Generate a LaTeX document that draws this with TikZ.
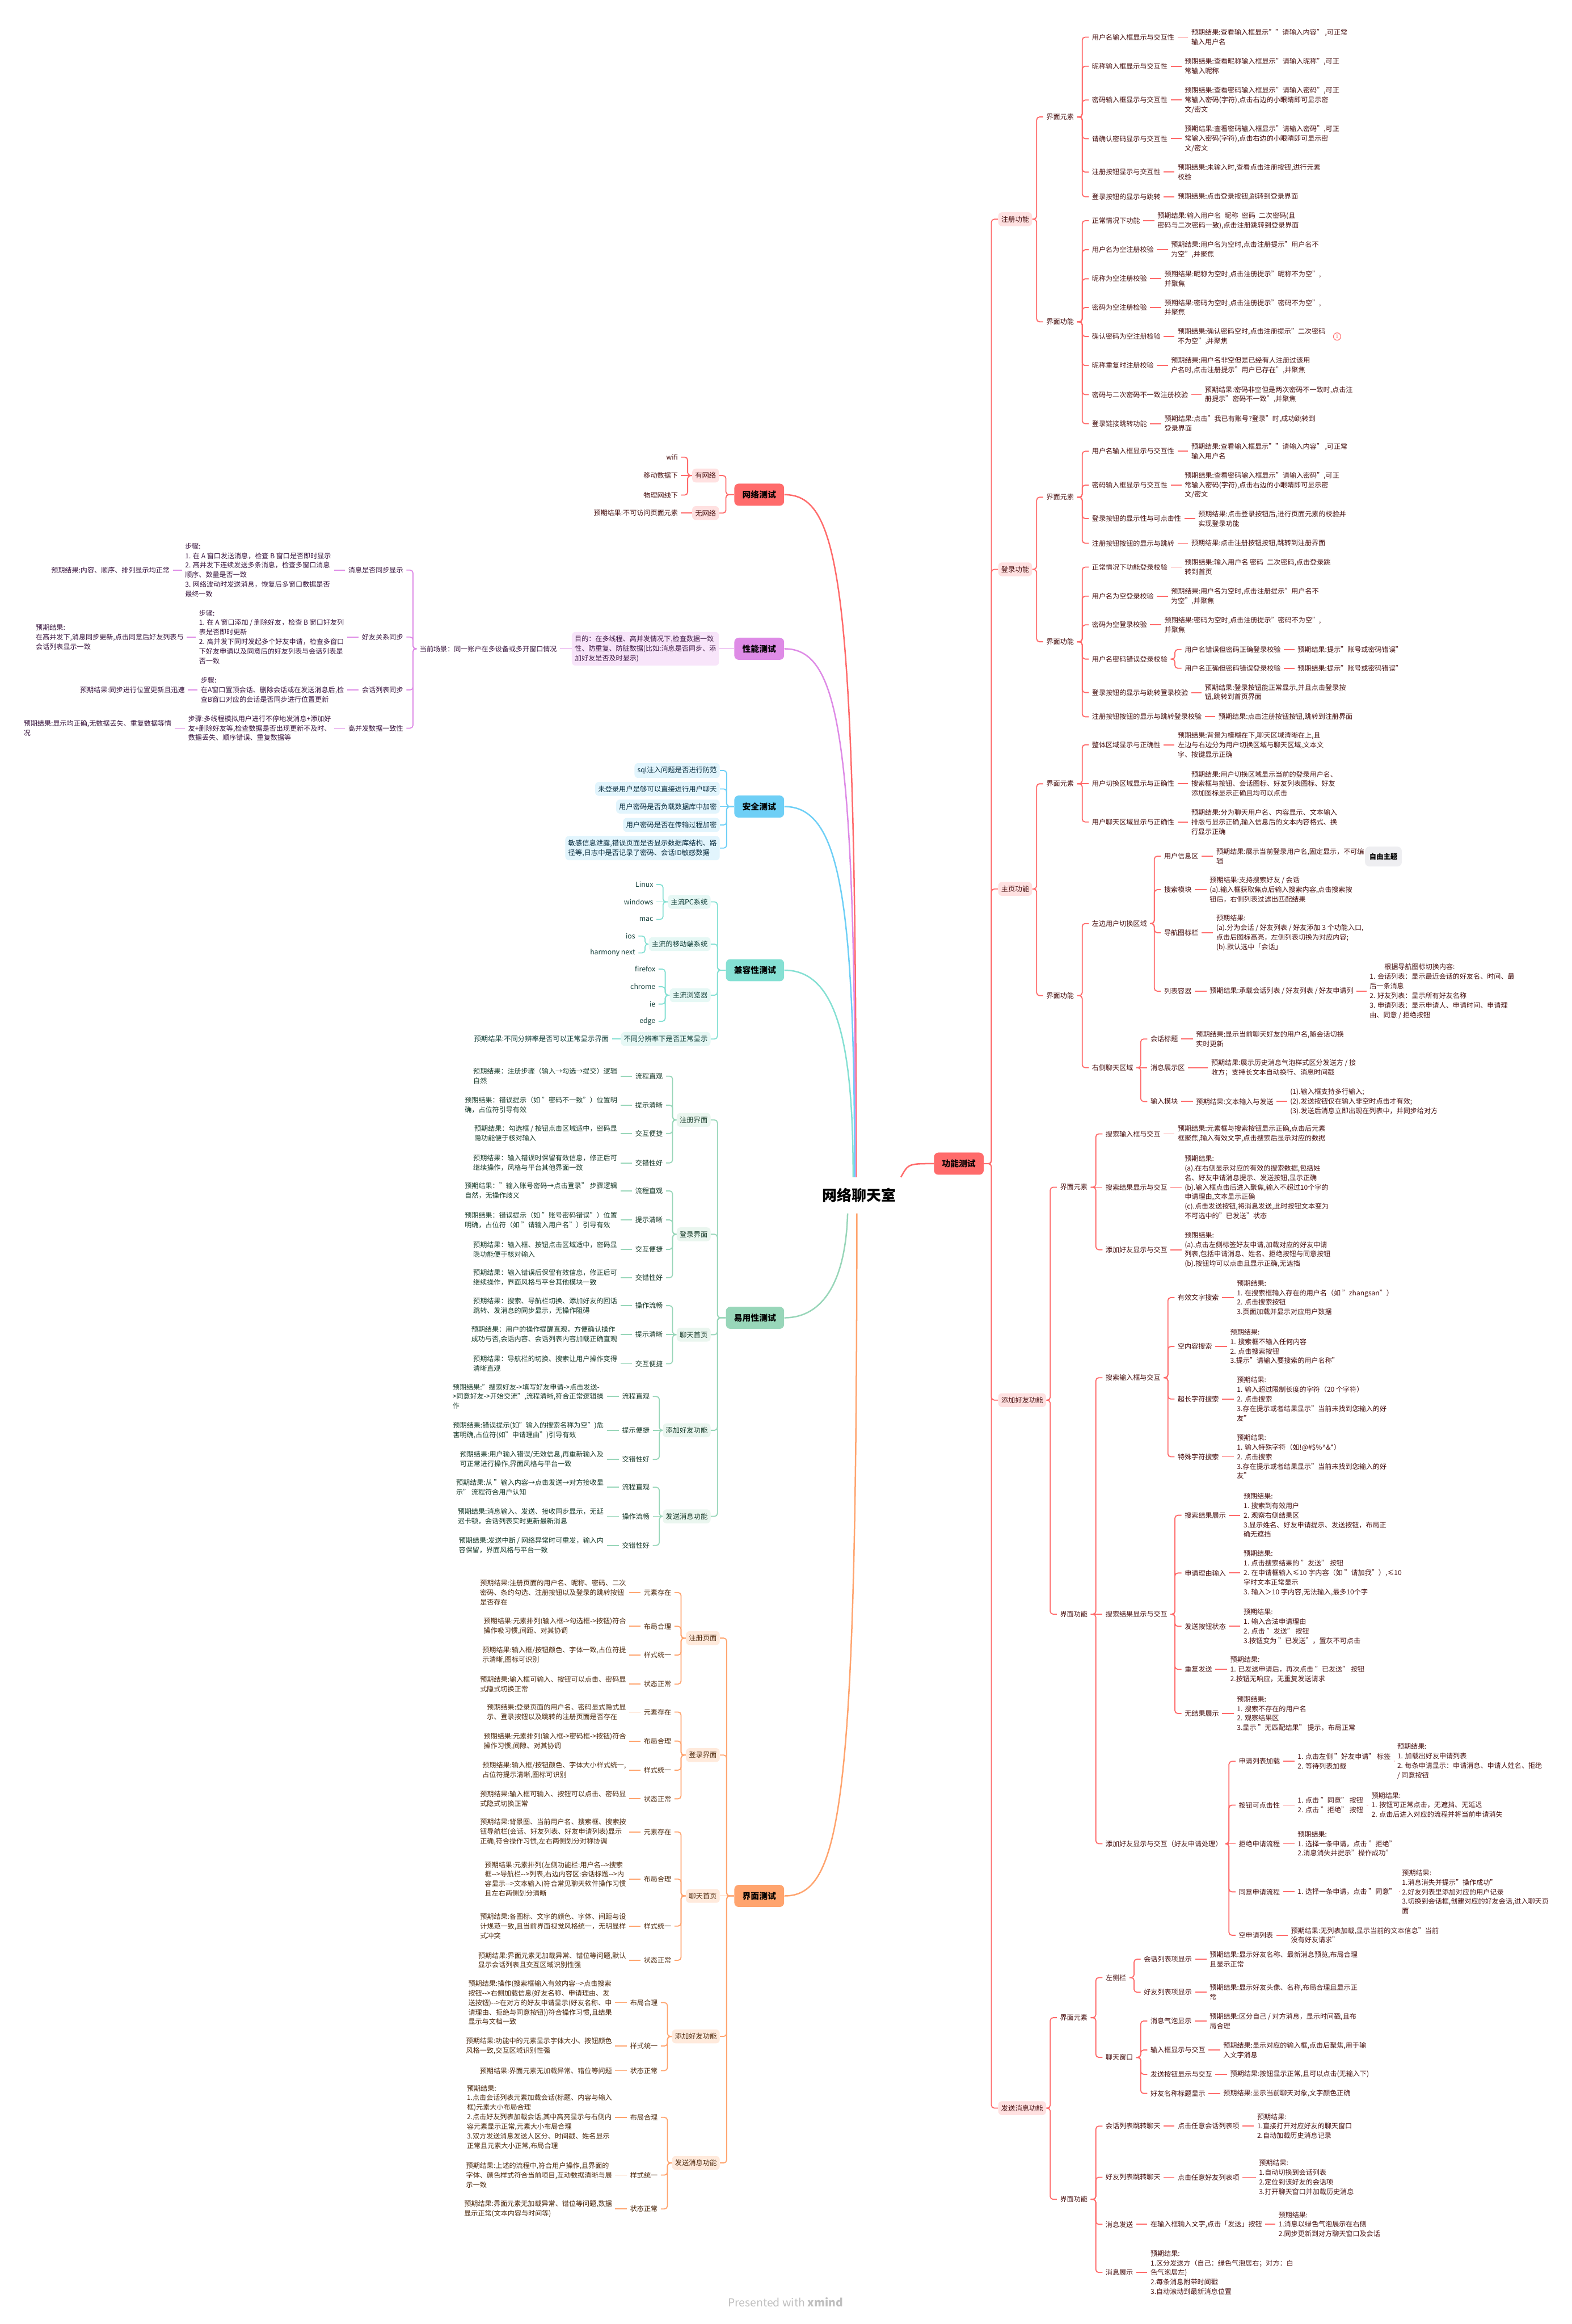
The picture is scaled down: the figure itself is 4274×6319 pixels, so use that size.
\documentclass[tikz,border=0pt]{standalone}
\usepackage{fontspec}
\setmainfont{Noto Sans CJK SC}

\newcommand{\leaffont}{\fontsize{5.3}{7.4}\selectfont}
\newcommand{\subfont}{\fontsize{5.4}{7.4}\selectfont}
\newcommand{\topicfont}{\fontsize{6.5}{8}\selectfont\bfseries}
\newcommand{\rootfont}{\fontsize{11.4}{13}\selectfont\bfseries}

\definecolor{redM}{HTML}{FF6B6B}
\definecolor{redL}{HTML}{FFE1E1}
\definecolor{redT}{HTML}{4A1212}
\definecolor{purM}{HTML}{DE8BE6}
\definecolor{purL}{HTML}{F8E5FA}
\definecolor{purT}{HTML}{3A1640}
\definecolor{bluM}{HTML}{6ECFF6}
\definecolor{bluL}{HTML}{E2F5FD}
\definecolor{bluT}{HTML}{0D3042}
\definecolor{tealM}{HTML}{85E0D3}
\definecolor{tealL}{HTML}{E6F8F5}
\definecolor{tealT}{HTML}{123F39}
\definecolor{grnM}{HTML}{98D6B9}
\definecolor{grnL}{HTML}{EAF6EF}
\definecolor{grnT}{HTML}{183B2A}
\definecolor{orgM}{HTML}{FFA46E}
\definecolor{orgL}{HTML}{FFEADC}
\definecolor{orgT}{HTML}{4D280C}
\definecolor{freeL}{HTML}{EEEEF1}

\tikzset{
  txt/.style={inner xsep=0.08cm, inner ysep=0pt, align=left, font=\leaffont},
  rt/.style={txt, anchor=west},
  lt/.style={txt, anchor=east},
  topic/.style={fill=#1, rounded corners=0.12cm, minimum height=0.6cm, inner xsep=0.22cm, font=\topicfont, text=black},
  subtopic/.style={fill=#1, rounded corners=0.1cm, inner xsep=0.08cm, inner ysep=0.1cm, align=left, font=\subfont},
  link/.style={draw=#1, line width=0.8pt, rounded corners=0.08cm},
  mainlink/.style={draw=#1, line width=1.1pt},
}

\begin{document}
\begin{tikzpicture}[x=0.01cm, y=-0.01cm]
\fill[white] (0,0) rectangle (4274,6319);
\useasboundingbox (0,0) rectangle (4274,6319);

% Zentrum
\node[fill=white, rounded corners=0.2cm, inner xsep=0.3cm, inner ysep=0.29cm, font=\rootfont] (root) at (2337,3250) {网络聊天室};

% ================= 功能测试 (rechte Seite) =================
\begin{scope}[every node/.append style={text=redT}]
\node[topic=redM, anchor=west] (func) at (2539,3164) {功能测试};
\draw[mainlink=redM] ([xshift=-0.18cm]root.north east) .. controls (2470,3164) .. (func.west);

\node[subtopic=redL, anchor=west] (reg)  at (2714,596)  {注册功能};
\node[subtopic=redL, anchor=west] (log)  at (2714,1548) {登录功能};
\node[subtopic=redL, anchor=west] (home) at (2714,2417) {主页功能};
\node[subtopic=redL, anchor=west] (add)  at (2714,3807) {添加好友功能};
\node[subtopic=redL, anchor=west] (msg)  at (2714,5732) {发送消息功能};
\foreach \n in {reg,log,home,add,msg}
  \draw[link=redM] (func.east) -| ([xshift=-0.18cm]\n.west) -- (\n.west);

% --- 注册功能
\node[rt] (regEl) at (2837,318) {界面元素};
\node[rt] (regFn) at (2837,875) {界面功能};
\foreach \n in {regEl,regFn}
  \draw[link=redM] (reg.east) -| ([xshift=-0.18cm]\n.west) -- (\n.west);

\node[rt] (r1) at (2961,101) {用户名输入框显示与交互性};
\node[rt] (r2) at (2961,180) {昵称输入框显示与交互性};
\node[rt] (r3) at (2961,272) {密码输入框显示与交互性};
\node[rt] (r4) at (2961,377) {请确认密码显示与交互性};
\node[rt] (r5) at (2961,468) {注册按钮显示与交互性};
\node[rt] (r6) at (2961,535) {登录按钮的显示与跳转};
\node[rt] (r1x) at (3231,101) {预期结果:查看输入框显示""请输入内容" ,可正常\\输入用户名};
\node[rt] (r2x) at (3213,180) {预期结果:查看昵称输入框显示"请输入昵称",可正\\常输入昵称};
\node[rt] (r3x) at (3213,272) {预期结果:查看密码输入框显示"请输入密码",可正\\常输入密码(字符),点击右边的小眼睛即可显示密\\文/密文};
\node[rt] (r4x) at (3213,377) {预期结果:查看密码输入框显示"请输入密码",可正\\常输入密码(字符),点击右边的小眼睛即可显示密\\文/密文};
\node[rt] (r5x) at (3194,468) {预期结果:未输入时,查看点击注册按钮,进行元素\\校验};
\node[rt] (r6x) at (3194,535) {预期结果:点击登录按钮,跳转到登录界面};
\foreach \n in {r1,r2,r3,r4,r5,r6}
  \draw[link=redM] (regEl.east) -| ([xshift=-0.18cm]\n.west) -- (\n.west);

\node[rt] (f1) at (2961,600)  {正常情况下功能};
\node[rt] (f2) at (2961,679)  {用户名为空注册校验};
\node[rt] (f3) at (2961,758)  {昵称为空注册校验};
\node[rt] (f4) at (2961,836)  {密码为空注册检验};
\node[rt] (f5) at (2961,915)  {确认密码为空注册检验};
\node[rt] (f6) at (2961,994)  {昵称重复时注册校验};
\node[rt] (f7) at (2961,1073) {密码与二次密码不一致注册校验};
\node[rt] (f8) at (2961,1152) {登录链接跳转功能};
\node[rt] (f1x) at (3139,600)  {预期结果:输入用户名\enspace 昵称\enspace 密码\enspace 二次密码(且\\密码与二次密码一致),点击注册跳转到登录界面};
\node[rt] (f2x) at (3176,679)  {预期结果:用户名为空时,点击注册提示"用户名不\\为空",并聚焦};
\node[rt] (f3x) at (3158,758)  {预期结果:昵称为空时,点击注册提示"昵称不为空",\\并聚焦};
\node[rt] (f4x) at (3158,836)  {预期结果:密码为空时,点击注册提示"密码不为空",\\并聚焦};
\node[rt] (f5x) at (3194,915)  {预期结果:确认密码空时,点击注册提示"二次密码\\不为空",并聚焦};
\node[rt] (f6x) at (3176,994)  {预期结果:用户名非空但是已经有人注册过该用\\户名时,点击注册提示"用户已存在",并聚焦};
\node[rt] (f7x) at (3268,1073) {预期结果:密码非空但是两次密码不一致时,点击注\\册提示"密码不一致",并聚焦};
\node[rt] (f8x) at (3158,1152) {预期结果:点击"我已有账号?登录"时,成功跳转到\\登录界面};
\foreach \n in {f1,f2,f3,f4,f5,f6,f7,f8}
  \draw[link=redM] (regFn.east) -| ([xshift=-0.18cm]\n.west) -- (\n.west);
\node[circle, draw=redM, line width=0.5pt, minimum size=0.2cm, inner sep=0pt, font=\fontsize{4}{4}\selectfont, text=redM, anchor=west] (mark) at ([xshift=0.12cm]f5x.east) {1};

\foreach \a/\b in {r1/r1x,r2/r2x,r3/r3x,r4/r4x,r5/r5x,r6/r6x,f1/f1x,f2/f2x,f3/f3x,f4/f4x,f5/f5x,f6/f6x,f7/f7x,f8/f8x}
  \draw[link=redM] (\a.east) -- (\b.west);

% --- 登录功能
\node[rt] (logEl) at (2837,1352) {界面元素};
\node[rt] (logFn) at (2837,1745) {界面功能};
\foreach \n in {logEl,logFn}
  \draw[link=redM] (log.east) -| ([xshift=-0.18cm]\n.west) -- (\n.west);

\node[rt] (l1) at (2961,1227) {用户名输入框显示与交互性};
\node[rt] (l2) at (2961,1319) {密码输入框显示与交互性};
\node[rt] (l3) at (2961,1410) {登录按钮的显示性与可点击性};
\node[rt] (l4) at (2961,1477) {注册按钮按钮的显示与跳转};
\node[rt] (l1x) at (3231,1227) {预期结果:查看输入框显示""请输入内容" ,可正常\\输入用户名};
\node[rt] (l2x) at (3213,1319) {预期结果:查看密码输入框显示"请输入密码",可正\\常输入密码(字符),点击右边的小眼睛即可显示密\\文/密文};
\node[rt] (l3x) at (3250,1410) {预期结果:点击登录按钮后,进行页面元素的校验并\\实现登录功能};
\node[rt] (l4x) at (3231,1477) {预期结果:点击注册按钮按钮,跳转到注册界面};
\foreach \n in {l1,l2,l3,l4}
  \draw[link=redM] (logEl.east) -| ([xshift=-0.18cm]\n.west) -- (\n.west);

\node[rt] (m1) at (2961,1542) {正常情况下功能登录校验};
\node[rt] (m2) at (2961,1621) {用户名为空登录校验};
\node[rt] (m3) at (2961,1699) {密码为空登录校验};
\node[rt] (m4) at (2961,1792) {用户名密码错误登录校验};
\node[rt] (m5) at (2961,1883) {登录按钮的显示与跳转登录校验};
\node[rt] (m6) at (2961,1949) {注册按钮按钮的显示与跳转登录校验};
\node[rt] (m1x) at (3213,1542) {预期结果:输入用户名 密码\enspace 二次密码,点击登录跳\\转到首页};
\node[rt] (m2x) at (3176,1621) {预期结果:用户名为空时,点击注册提示"用户名不\\为空",并聚焦};
\node[rt] (m3x) at (3158,1699) {预期结果:密码为空时,点击注册提示"密码不为空",\\并聚焦};
\node[rt] (m4a) at (3213,1766) {用户名错误但密码正确登录校验};
\node[rt] (m4b) at (3213,1817) {用户名正确但密码错误登录校验};
\node[rt] (m4ax) at (3520,1766) {预期结果:提示"账号或密码错误"};
\node[rt] (m4bx) at (3520,1817) {预期结果:提示"账号或密码错误"};
\node[rt] (m5x) at (3268,1883) {预期结果:登录按钮能正常显示,并且点击登录按\\钮,跳转到首页界面};
\node[rt] (m6x) at (3305,1949) {预期结果:点击注册按钮按钮,跳转到注册界面};
\foreach \n in {m1,m2,m3,m4,m5,m6}
  \draw[link=redM] (logFn.east) -| ([xshift=-0.18cm]\n.west) -- (\n.west);
\foreach \n in {m4a,m4b}
  \draw[link=redM] (m4.east) -| ([xshift=-0.18cm]\n.west) -- (\n.west);
\foreach \a/\b in {l1/l1x,l2/l2x,l3/l3x,l4/l4x,m1/m1x,m2/m2x,m3/m3x,m4a/m4ax,m4b/m4bx,m5/m5x,m6/m6x}
  \draw[link=redM] (\a.east) -- (\b.west);

% --- 主页功能
\node[rt] (homeEl) at (2837,2131) {界面元素};
\node[rt] (homeFn) at (2837,2707) {界面功能};
\foreach \n in {homeEl,homeFn}
  \draw[link=redM] (home.east) -| ([xshift=-0.18cm]\n.west) -- (\n.west);

\node[rt] (h1) at (2961,2025) {整体区域显示与正确性};
\node[rt] (h2) at (2961,2131) {用户切换区域显示与正确性};
\node[rt] (h3) at (2961,2235) {用户聊天区域显示与正确性};
\node[rt] (h1x) at (3194,2025) {预期结果:背景为模糊在下,聊天区域清晰在上,且\\左边与右边分为用户切换区域与聊天区域,文本文\\字、按键显示正确};
\node[rt] (h2x) at (3231,2131) {预期结果:用户切换区域显示当前的登录用户名、\\搜索框与按钮、会话图标、好友列表图标、好友\\添加图标显示正确且均可以点击};
\node[rt] (h3x) at (3231,2235) {预期结果:分为聊天用户名、内容显示、文本输入\\排版与显示正确,输入信息后的文本内容格式、换\\行显示正确};
\foreach \n in {h1,h3}
  \draw[link=redM] (homeEl.east) -| ([xshift=-0.18cm]\n.west) -- (\n.west);
\draw[link=redM] (homeEl.east) -- (h2.west);

\node[rt] (h4) at (2961,2511) {左边用户切换区域};
\node[rt] (h5) at (2961,2903) {右侧聊天区域};
\foreach \n in {h4,h5}
  \draw[link=redM] (homeFn.east) -| ([xshift=-0.18cm]\n.west) -- (\n.west);

\node[rt] (h4a) at (3157,2328) {用户信息区};
\node[rt] (h4b) at (3157,2419) {搜索模块};
\node[rt] (h4c) at (3157,2536) {导航图标栏};
\node[rt] (h4d) at (3157,2695) {列表容器};
\node[rt] (h4ax) at (3299,2328) {预期结果:展示当前登录用户名,固定显示，不可编\\辑};
\node[rt] (h4bx) at (3281,2419) {预期结果:支持搜索好友 / 会话\\(a).输入框获取焦点后输入搜索内容,点击搜索按\\钮后，右侧列表过滤出匹配结果};
\node[rt] (h4cx) at (3299,2536) {预期结果:\\(a).分为会话 / 好友列表 / 好友添加 3 个功能入口,\\点击后图标高亮，左侧列表切换为对应内容;\\(b).默认选中「会话」};
\node[rt] (h4dx) at (3281,2695) {预期结果:承载会话列表 / 好友列表 / 好友申请列};
\node[rt] (h4dy) at (3716,2695) {\hspace*{0.4cm}根据导航图标切换内容:\\1. 会话列表：显示最近会话的好友名、时间、最\\后一条消息\\2. 好友列表：显示所有好友名称\\3. 申请列表：显示申请人、申请时间、申请理\\由、同意 / 拒绝按钮};
\foreach \n in {h4a,h4b,h4c,h4d}
  \draw[link=redM] (h4.east) -| ([xshift=-0.18cm]\n.west) -- (\n.west);
\node[fill=freeL, rounded corners=0.12cm, minimum width=1cm, minimum height=0.54cm, font=\subfont\bfseries, text=black] (free) at (3762,2329) {自由主题};

\node[rt] (h5a) at (3120,2825) {会话标题};
\node[rt] (h5b) at (3120,2903) {消息展示区};
\node[rt] (h5c) at (3120,2995) {输入模块};
\node[rt] (h5ax) at (3244,2825) {预期结果:显示当前聊天好友的用户名,随会话切换\\实时更新};
\node[rt] (h5bx) at (3285,2903) {预期结果:展示历史消息气泡样式区分发送方 / 接\\收方；支持长文本自动换行、消息时间戳};
\node[rt] (h5cx) at (3244,2995) {预期结果:文本输入与发送};
\node[rt] (h5cy) at (3500,2995) {(1).输入框支持多行输入;\\(2).发送按钮仅在输入非空时点击才有效;\\(3).发送后消息立即出现在列表中，并同步给对方};
\foreach \n in {h5a,h5c}
  \draw[link=redM] (h5.east) -| ([xshift=-0.18cm]\n.west) -- (\n.west);
\draw[link=redM] (h5.east) -- (h5b.west);
\foreach \a/\b in {h1/h1x,h2/h2x,h3/h3x,h4a/h4ax,h4b/h4bx,h4c/h4cx,h4d/h4dx,h4dx/h4dy,h5a/h5ax,h5b/h5bx,h5c/h5cx,h5cx/h5cy}
  \draw[link=redM] (\a.east) -- (\b.west);

% --- 添加好友功能
\node[rt] (addEl) at (2874,3228) {界面元素};
\node[rt] (addFn) at (2874,4389) {界面功能};
\foreach \n in {addEl,addFn}
  \draw[link=redM] (add.east) -| ([xshift=-0.18cm]\n.west) -- (\n.west);

\node[rt] (a1) at (2998,3083) {搜索输入框与交互};
\node[rt] (a2) at (2998,3228) {搜索结果显示与交互};
\node[rt] (a3) at (2998,3398) {添加好友显示与交互};
\node[rt] (a1x) at (3194,3083) {预期结果:元素框与搜索按钮显示正确,点击后元素\\框聚焦,输入有效文字,点击搜索后显示对应的数据};
\node[rt] (a2x) at (3213,3228) {预期结果:\\(a).在右侧显示对应的有效的搜索数据,包括姓\\名、好友申请消息提示、发送按钮,显示正确\\(b).输入框点击后进入聚焦,输入不超过10个字的\\申请理由,文本显示正确\\(c).点击发送按钮,将消息发送,此时按钮文本变为\\不可选中的"已发送"状态};
\node[rt] (a3x) at (3213,3398) {预期结果:\\(a).点击左侧标签好友申请,加载对应的好友申请\\列表,包括申请消息、姓名、拒绝按钮与同意按钮\\(b).按钮均可以点击且显示正确,无遮挡};
\foreach \n in {a1,a3}
  \draw[link=redM] (addEl.east) -| ([xshift=-0.18cm]\n.west) -- (\n.west);
\draw[link=redM] (addEl.east) -- (a2.west);

\node[rt] (b1) at (2998,3746) {搜索输入框与交互};
\node[rt] (b2) at (2998,4389) {搜索结果显示与交互};
\node[rt] (b3) at (2998,5013) {添加好友显示与交互（好友申请处理）};
\foreach \n in {b1,b3}
  \draw[link=redM] (addFn.east) -| ([xshift=-0.18cm]\n.west) -- (\n.west);
\draw[link=redM] (addFn.east) -- (b2.west);

\node[rt] (b1a) at (3194,3528) {有效文字搜索};
\node[rt] (b1b) at (3194,3661) {空内容搜索};
\node[rt] (b1c) at (3194,3804) {超长字符搜索};
\node[rt] (b1d) at (3194,3961) {特殊字符搜索};
\node[rt] (b1ax) at (3355,3528) {预期结果:\\1. 在搜索框输入存在的用户名（如 "zhangsan"）\\2. 点击搜索按钮\\3.页面加载并显示对应用户数据};
\node[rt] (b1bx) at (3337,3661) {预期结果:\\1. 搜索框不输入任何内容\\2. 点击搜索按钮\\3.提示"请输入要搜索的用户名称"};
\node[rt] (b1cx) at (3355,3804) {预期结果:\\1. 输入超过限制长度的字符（20 个字符）\\2. 点击搜索\\3.存在提示或者结果显示"当前未找到您输入的好\\友"};
\node[rt] (b1dx) at (3355,3961) {预期结果:\\1. 输入特殊字符（如!@\#\$\%\textasciicircum\&*）\\2. 点击搜索\\3.存在提示或者结果显示"当前未找到您输入的好\\友"};
\foreach \n in {b1a,b1b,b1c,b1d}
  \draw[link=redM] (b1.east) -| ([xshift=-0.18cm]\n.west) -- (\n.west);

\node[rt] (b2a) at (3213,4120) {搜索结果展示};
\node[rt] (b2b) at (3213,4277) {申请理由输入};
\node[rt] (b2c) at (3213,4422) {发送按钮状态};
\node[rt] (b2d) at (3213,4539) {重复发送};
\node[rt] (b2e) at (3213,4659) {无结果展示};
\node[rt] (b2ax) at (3373,4120) {预期结果:\\1. 搜索到有效用户\\2. 观察右侧结果区\\3.显示姓名、好友申请提示、发送按钮，布局正\\确无遮挡};
\node[rt] (b2bx) at (3373,4277) {预期结果:\\1. 点击搜索结果的 "发送" 按钮\\2. 在申请框输入≤10 字内容（如 "请加我"）,≤10\\字时文本正常显示\\3. 输入＞10 字内容,无法输入,最多10个字};
\node[rt] (b2cx) at (3373,4422) {预期结果:\\1. 输入合法申请理由\\2. 点击 "发送" 按钮\\3.按钮变为 "已发送"，置灰不可点击};
\node[rt] (b2dx) at (3337,4539) {预期结果:\\1. 已发送申请后，再次点击 "已发送" 按钮\\2.按钮无响应，无重复发送请求};
\node[rt] (b2ex) at (3355,4659) {预期结果:\\1. 搜索不存在的用户名\\2. 观察结果区\\3.显示 "无匹配结果" 提示，布局正常};
\foreach \n in {b2a,b2b,b2c,b2d,b2e}
  \draw[link=redM] (b2.east) -| ([xshift=-0.18cm]\n.west) -- (\n.west);

\node[rt] (b3a) at (3360,4789) {申请列表加载};
\node[rt] (b3b) at (3360,4908) {按钮可点击性};
\node[rt] (b3c) at (3360,5013) {拒绝申请流程};
\node[rt] (b3d) at (3360,5144) {同意申请流程};
\node[rt] (b3e) at (3360,5262) {空申请列表};
\node[rt] (b3ax) at (3520,4789) {1. 点击左侧 "好友申请" 标签\\2. 等待列表加载};
\node[rt] (b3ay) at (3791,4789) {预期结果:\\1. 加载出好友申请列表\\2. 每条申请显示：申请消息、申请人姓名、拒绝\\/ 同意按钮};
\node[rt] (b3bx) at (3520,4908) {1. 点击 "同意" 按钮\\2. 点击 "拒绝" 按钮};
\node[rt] (b3by) at (3721,4908) {预期结果:\\1. 按钮可正常点击，无遮挡、无延迟\\2. 点击后进入对应的流程并将当前申请消失};
\node[rt] (b3cx) at (3520,5013) {预期结果:\\1. 选择一条申请，点击 "拒绝"\\2.消息消失并提示"操作成功"};
\node[rt] (b3dx) at (3520,5144) {1. 选择一条申请，点击 "同意"};
\node[rt] (b3dy) at (3804,5144) {预期结果:\\1.消息消失并提示"操作成功"\\2.好友列表里添加对应的用户记录\\3.切换到会话框,创建对应的好友会话,进入聊天页\\面};
\node[rt] (b3ex) at (3502,5262) {预期结果:无列表加载,显示当前的文本信息"当前\\没有好友请求"};
\foreach \n in {b3a,b3b,b3d,b3e}
  \draw[link=redM] (b3.east) -| ([xshift=-0.18cm]\n.west) -- (\n.west);
\draw[link=redM] (b3.east) -- (b3c.west);
\foreach \a/\b in {a1/a1x,a2/a2x,a3/a3x,b1a/b1ax,b1b/b1bx,b1c/b1cx,b1d/b1dx,b2a/b2ax,b2b/b2bx,b2c/b2cx,b2d/b2dx,b2e/b2ex,b3a/b3ax,b3ax/b3ay,b3b/b3bx,b3bx/b3by,b3c/b3cx,b3d/b3dx,b3dx/b3dy,b3e/b3ex}
  \draw[link=redM] (\a.east) -- (\b.west);

% --- 发送消息功能
\node[rt] (msgEl) at (2874,5486) {界面元素};
\node[rt] (msgFn) at (2874,5980) {界面功能};
\foreach \n in {msgEl,msgFn}
  \draw[link=redM] (msg.east) -| ([xshift=-0.18cm]\n.west) -- (\n.west);

\node[rt] (c1) at (2998,5377) {左侧栏};
\node[rt] (c2) at (2998,5594) {聊天窗口};
\foreach \n in {c1,c2}
  \draw[link=redM] (msgEl.east) -| ([xshift=-0.18cm]\n.west) -- (\n.west);
\node[rt] (c1a) at (3102,5327) {会话列表项显示};
\node[rt] (c1b) at (3102,5417) {好友列表项显示};
\node[rt] (c1ax) at (3281,5327) {预期结果:显示好友名称、最新消息预览,布局合理\\且显示正常};
\node[rt] (c1bx) at (3281,5417) {预期结果:显示好友头像、名称,布局合理且显示正\\常};
\foreach \n in {c1a,c1b}
  \draw[link=redM] (c1.east) -| ([xshift=-0.18cm]\n.west) -- (\n.west);
\node[rt] (c2a) at (3120,5495) {消息气泡显示};
\node[rt] (c2b) at (3120,5574) {输入框显示与交互};
\node[rt] (c2c) at (3120,5640) {发送按钮显示与交互};
\node[rt] (c2d) at (3120,5692) {好友名称标题显示};
\node[rt] (c2ax) at (3281,5495) {预期结果:区分自己 / 对方消息，显示时间戳,且布\\局合理};
\node[rt] (c2bx) at (3318,5574) {预期结果:显示对应的输入框,点击后聚焦,用于输\\入文字消息};
\node[rt] (c2cx) at (3337,5640) {预期结果:按钮显示正常,且可以点击(无输入下)};
\node[rt] (c2dx) at (3318,5692) {预期结果:显示当前聊天对象,文字颜色正确};
\foreach \n in {c2a,c2b,c2c,c2d}
  \draw[link=redM] (c2.east) -| ([xshift=-0.18cm]\n.west) -- (\n.west);

\node[rt] (d1) at (2998,5781) {会话列表跳转聊天};
\node[rt] (d2) at (2998,5920) {好友列表跳转聊天};
\node[rt] (d3) at (2998,6048) {消息发送};
\node[rt] (d4) at (2998,6179) {消息展示};
\node[rt] (d1x) at (3194,5781) {点击任意会话列表项};
\node[rt] (d1y) at (3410,5781) {预期结果:\\1.直接打开对应好友的聊天窗口\\2.自动加载历史消息记录};
\node[rt] (d2x) at (3194,5920) {点击任意好友列表项};
\node[rt] (d2y) at (3415,5920) {预期结果:\\1.自动切换到会话列表\\2.定位到该好友的会话项\\3.打开聊天窗口并加载历史消息};
\node[rt] (d3x) at (3120,6048) {在输入框输入文字,点击「发送」按钮};
\node[rt] (d3y) at (3468,6048) {预期结果:\\1.消息以绿色气泡展示在右侧\\2.同步更新到对方聊天窗口及会话};
\node[rt] (d4x) at (3120,6179) {预期结果:\\1.区分发送方（自己：绿色气泡居右；对方：白\\色气泡居左)\\2.每条消息附带时间戳\\3.自动滚动到最新消息位置};
\foreach \n in {d1,d2,d3,d4}
  \draw[link=redM] (msgFn.east) -| ([xshift=-0.18cm]\n.west) -- (\n.west);
\foreach \a/\b in {c1a/c1ax,c1b/c1bx,c2a/c2ax,c2b/c2bx,c2c/c2cx,c2d/c2dx,d1/d1x,d1x/d1y,d2/d2x,d2x/d2y,d3/d3x,d3x/d3y,d4/d4x}
  \draw[link=redM] (\a.east) -- (\b.west);
\end{scope}

% ================= 网络测试 =================
\begin{scope}[every node/.append style={text=redT}]
\node[topic=redM, anchor=east] (net) at (2133,1345) {网络测试};
\draw[mainlink=redM] ([xshift=-0.09cm]root.north) .. controls (2328,1595) and (2288,1345) .. (net.east);
\node[subtopic=redL, anchor=east] (netY) at (1956,1293) {有网络};
\node[subtopic=redL, anchor=east] (netN) at (1956,1395) {无网络};
\foreach \n in {netY,netN}
  \draw[link=redM] (net.west) -| ([xshift=0.18cm]\n.east) -- (\n.east);
\node[lt] (wifi)   at (1852,1243) {wifi};
\node[lt] (mobile) at (1852,1293) {移动数据下};
\node[lt] (cable)  at (1852,1346) {物理网线下};
\node[lt] (netNx)  at (1852,1395) {预期结果:不可访问页面元素};
\foreach \n in {wifi,cable}
  \draw[link=redM] (netY.west) -| ([xshift=0.18cm]\n.east) -- (\n.east);
\draw[link=redM] (netY.west) -- (mobile.east);
\draw[link=redM] (netN.west) -- (netNx.east);
\end{scope}

% ================= 性能测试 =================
\begin{scope}[every node/.append style={text=purT}]
\node[topic=purM, anchor=east] (perf) at (2133,1764) {性能测试};
\draw[mainlink=purM] ([xshift=-0.11cm]root.north) .. controls (2326,2014) and (2286,1764) .. (perf.east);
\node[subtopic=purL, anchor=east, font=\leaffont] (goal) at (1956,1764) {目的：在多线程、高并发情况下,检查数据一致\\性、防重复、防脏数据(比如:消息是否同步、添\\加好友是否及时显示)};
\node[lt] (scene) at (1523,1764) {当前场景：同一账户在多设备或多开窗口情况};
\draw[link=purM] (perf.west) -- (goal.east);
\draw[link=purM] (goal.west) -- (scene.east);

\node[lt] (p1) at (1105,1550) {消息是否同步显示};
\node[lt] (p2) at (1105,1732) {好友关系同步};
\node[lt] (p3) at (1105,1876) {会话列表同步};
\node[lt] (p4) at (1105,1980) {高并发数据一致性};
\foreach \n in {p1,p2,p3,p4}
  \draw[link=purM] (scene.west) -| ([xshift=0.18cm]\n.east) -- (\n.east);
\node[lt] (p1x) at (909,1550) {步骤:\\1. 在 A 窗口发送消息，检查 B 窗口是否即时显示\\2. 高并发下连续发送多条消息，检查多窗口消息\\顺序、数量是否一致\\3. 网络波动时发送消息，恢复后多窗口数据是否\\最终一致};
\node[lt] (p2x) at (944,1732) {步骤:\\1. 在 A 窗口添加 / 删除好友，检查 B 窗口好友列\\表是否即时更新\\2. 高并发下同时发起多个好友申请，检查多窗口\\下好友申请以及同意后的好友列表与会话列表是\\否一致};
\node[lt] (p3x) at (944,1876) {步骤:\\在A窗口置顶会话、删除会话或在发送消息后,检\\查B窗口对应的会话是否同步进行位置更新};
\node[lt] (p4x) at (909,1980) {步骤:多线程模拟用户进行不停地发消息+添加好\\友+删除好友等,检查数据是否出现更新不及时、\\数据丢失、顺序错误、重复数据等};
\node[lt] (p1y) at (470,1550) {预期结果:内容、顺序、排列显示均正常};
\node[lt] (p2y) at (508,1732) {预期结果:\\在高并发下,消息同步更新,点击同意后好友列表与\\会话列表显示一致};
\node[lt] (p3y) at (511,1876) {预期结果:同步进行位置更新且迅速};
\node[lt] (p4y) at (475,1980) {预期结果:显示均正确,无数据丢失、重复数据等情\\况};
\foreach \a/\b in {p1/p1x,p1x/p1y,p2/p2x,p2x/p2y,p3/p3x,p3x/p3y,p4/p4x,p4x/p4y}
  \draw[link=purM] (\a.west) -- (\b.east);
\end{scope}

% ================= 安全测试 =================
\begin{scope}[every node/.append style={text=bluT}]
\node[topic=bluM, anchor=east] (sec) at (2133,2193) {安全测试};
\draw[mainlink=bluM] ([xshift=-0.13cm]root.north) .. controls (2324,2443) and (2284,2193) .. (sec.east);
\node[subtopic=bluL, anchor=east] (s1) at (1958,2095) {sql注入问题是否进行防范};
\node[subtopic=bluL, anchor=east] (s2) at (1958,2145) {未登录用户是够可以直接进行用户聊天};
\node[subtopic=bluL, anchor=east] (s3) at (1958,2193) {用户密码是否负载数据库中加密};
\node[subtopic=bluL, anchor=east] (s4) at (1958,2243) {用户密码是否在传输过程加密};
\node[subtopic=bluL, anchor=east] (s5) at (1958,2306) {敏感信息泄露,错误页面是否显示数据库结构、路\\径等,日志中是否记录了密码、会话ID敏感数据};
\foreach \n in {s1,s2,s4,s5}
  \draw[link=bluM] (sec.west) -| ([xshift=0.18cm]\n.east) -- (\n.east);
\draw[link=bluM] (sec.west) -- (s3.east);
\end{scope}

% ================= 兼容性测试 =================
\begin{scope}[every node/.append style={text=tealT}]
\node[topic=tealM, anchor=east] (comp) at (2133,2638) {兼容性测试};
\draw[mainlink=tealM] ([xshift=-0.17cm]root.north) .. controls (2320,2850) and (2280,2638) .. (comp.east);
\node[subtopic=tealL, anchor=east] (pc)  at (1933,2452) {主流PC系统};
\node[subtopic=tealL, anchor=east] (mob) at (1933,2567) {主流的移动端系统};
\node[subtopic=tealL, anchor=east] (brw) at (1933,2706) {主流浏览器};
\node[subtopic=tealL, anchor=east] (res) at (1933,2825) {不同分辨率下是否正常显示};
\foreach \n in {pc,mob,brw,res}
  \draw[link=tealM] (comp.west) -| ([xshift=0.18cm]\n.east) -- (\n.east);
\node[lt, font=\subfont] (linux) at (1785,2405) {Linux};
\node[lt, font=\subfont] (win)   at (1785,2452) {windows};
\node[lt, font=\subfont] (mac)   at (1785,2500) {mac};
\foreach \n in {linux,mac}
  \draw[link=tealM] (pc.west) -| ([xshift=0.18cm]\n.east) -- (\n.east);
\draw[link=tealM] (pc.west) -- (win.east);
\node[lt, font=\subfont] (ios) at (1736,2545) {ios};
\node[lt, font=\subfont] (hmy) at (1736,2591) {harmony next};
\foreach \n in {ios,hmy}
  \draw[link=tealM] (mob.west) -| ([xshift=0.18cm]\n.east) -- (\n.east);
\node[lt, font=\subfont] (ffx) at (1791,2635) {firefox};
\node[lt, font=\subfont] (chr) at (1791,2683) {chrome};
\node[lt, font=\subfont] (ie)  at (1791,2730) {ie};
\node[lt, font=\subfont] (edg) at (1791,2777) {edge};
\foreach \n in {ffx,chr,ie,edg}
  \draw[link=tealM] (brw.west) -| ([xshift=0.18cm]\n.east) -- (\n.east);
\node[lt, font=\subfont] (resx) at (1664,2825) {预期结果:不同分辨率是否可以正常显示界面};
\draw[link=tealM] (res.west) -- (resx.east);
\end{scope}

% ================= 易用性测试 =================
\begin{scope}[every node/.append style={text=grnT}]
\node[topic=grnM, anchor=east] (usab) at (2133,3583) {易用性测试};
\draw[mainlink=grnM] ([xshift=-0.32cm]root.south) .. controls (2300,3480) and (2240,3583) .. (usab.east);
\node[subtopic=grnL, anchor=east] (u1) at (1933,3045) {注册界面};
\node[subtopic=grnL, anchor=east] (u2) at (1933,3356) {登录界面};
\node[subtopic=grnL, anchor=east] (u3) at (1933,3629) {聊天首页};
\node[subtopic=grnL, anchor=east] (u4) at (1933,3889) {添加好友功能};
\node[subtopic=grnL, anchor=east] (u5) at (1933,4123) {发送消息功能};
\foreach \n in {u1,u2,u3,u4,u5}
  \draw[link=grnM] (usab.west) -| ([xshift=0.18cm]\n.east) -- (\n.east);

\node[lt] (u1a) at (1811,2926) {流程直观};
\node[lt] (u1b) at (1811,3005) {提示清晰};
\node[lt] (u1c) at (1811,3082) {交互便捷};
\node[lt] (u1d) at (1811,3162) {交错性好};
\node[lt] (u1ax) at (1687,2926) {预期结果：注册步骤（输入→勾选→提交）逻辑\\自然};
\node[lt] (u1bx) at (1687,3005) {预期结果：错误提示（如 "密码不一致"）位置明\\确，占位符引导有效};
\node[lt] (u1cx) at (1687,3082) {预期结果：勾选框 / 按钮点击区域适中，密码显\\隐功能便于核对输入};
\node[lt] (u1dx) at (1687,3162) {预期结果：输入错误时保留有效信息，修正后可\\继续操作，风格与平台其他界面一致};
\foreach \n in {u1a,u1b,u1c,u1d}
  \draw[link=grnM] (u1.west) -| ([xshift=0.18cm]\n.east) -- (\n.east);

\node[lt] (u2a) at (1811,3238) {流程直观};
\node[lt] (u2b) at (1811,3317) {提示清晰};
\node[lt] (u2c) at (1811,3397) {交互便捷};
\node[lt] (u2d) at (1811,3474) {交错性好};
\node[lt] (u2ax) at (1687,3238) {预期结果："输入账号密码→点击登录" 步骤逻辑\\自然，无操作歧义};
\node[lt] (u2bx) at (1687,3317) {预期结果：错误提示（如 "账号密码错误"）位置\\明确，占位符（如 "请输入用户名"）引导有效};
\node[lt] (u2cx) at (1687,3397) {预期结果：输入框、按钮点击区域适中，密码显\\隐功能便于核对输入};
\node[lt] (u2dx) at (1687,3474) {预期结果：输入错误后保留有效信息，修正后可\\继续操作，界面风格与平台其他模块一致};
\foreach \n in {u2a,u2b,u2c,u2d}
  \draw[link=grnM] (u2.west) -| ([xshift=0.18cm]\n.east) -- (\n.east);

\node[lt] (u3a) at (1811,3550) {操作流畅};
\node[lt] (u3b) at (1811,3629) {提示清晰};
\node[lt] (u3c) at (1811,3708) {交互便捷};
\node[lt] (u3ax) at (1687,3550) {预期结果：搜索、导航栏切换、添加好友的回话\\跳转、发消息的同步显示，无操作阻碍};
\node[lt] (u3bx) at (1687,3629) {预期结果：用户的操作提醒直观，方便确认操作\\成功与否,会话内容、会话列表内容加载正确直观};
\node[lt] (u3cx) at (1687,3708) {预期结果：导航栏的切换、搜索让用户操作变得\\清晰直观};
\foreach \n in {u3a,u3c}
  \draw[link=grnM] (u3.west) -| ([xshift=0.18cm]\n.east) -- (\n.east);
\draw[link=grnM] (u3.west) -- (u3b.east);

\node[lt] (u4a) at (1775,3797) {流程直观};
\node[lt] (u4b) at (1775,3889) {提示便捷};
\node[lt] (u4c) at (1775,3968) {交错性好};
\node[lt] (u4ax) at (1650,3797) {预期结果:"搜索好友->填写好友申请->点击发送-\\>同意好友->开始交流",流程清晰,符合正常逻辑操\\作};
\node[lt] (u4bx) at (1650,3889) {预期结果:错误提示(如"输入的搜索名称为空")危\\害明确,占位符(如"申请理由")引导有效};
\node[lt] (u4cx) at (1650,3968) {预期结果:用户输入错误/无效信息,再重新输入及\\可正常进行操作,界面风格与平台一致};
\foreach \n in {u4a,u4c}
  \draw[link=grnM] (u4.west) -| ([xshift=0.18cm]\n.east) -- (\n.east);
\draw[link=grnM] (u4.west) -- (u4b.east);

\node[lt] (u5a) at (1775,4044) {流程直观};
\node[lt] (u5b) at (1775,4123) {操作流畅};
\node[lt] (u5c) at (1775,4202) {交错性好};
\node[lt] (u5ax) at (1650,4044) {预期结果:从 "输入内容→点击发送→对方接收显\\示" 流程符合用户认知};
\node[lt] (u5bx) at (1650,4123) {预期结果:消息输入、发送、接收同步显示，无延\\迟卡顿，会话列表实时更新最新消息};
\node[lt] (u5cx) at (1650,4202) {预期结果:发送中断 / 网络异常时可重发，输入内\\容保留，界面风格与平台一致};
\foreach \n in {u5a,u5c}
  \draw[link=grnM] (u5.west) -| ([xshift=0.18cm]\n.east) -- (\n.east);
\draw[link=grnM] (u5.west) -- (u5b.east);
\foreach \a/\b in {u1a/u1ax,u1b/u1bx,u1c/u1cx,u1d/u1dx,u2a/u2ax,u2b/u2bx,u2c/u2cx,u2d/u2dx,u3a/u3ax,u3b/u3bx,u3c/u3cx,u4a/u4ax,u4b/u4bx,u4c/u4cx,u5a/u5ax,u5b/u5bx,u5c/u5cx}
  \draw[link=grnM] (\a.west) -- (\b.east);
\end{scope}

% ================= 界面测试 =================
\begin{scope}[every node/.append style={text=orgT}]
\node[topic=orgM, anchor=east] (ui) at (2133,5155) {界面测试};
\draw[mainlink=orgM] ([xshift=-0.07cm]root.south) .. controls (2330,4905) and (2290,5155) .. (ui.east);
\node[subtopic=orgL, anchor=east] (i1) at (1958,4454) {注册页面};
\node[subtopic=orgL, anchor=east] (i2) at (1958,4772) {登录界面};
\node[subtopic=orgL, anchor=east] (i3) at (1958,5155) {聊天首页};
\node[subtopic=orgL, anchor=east] (i4) at (1958,5537) {添加好友功能};
\node[subtopic=orgL, anchor=east] (i5) at (1958,5881) {发送消息功能};
\foreach \n in {i1,i2,i4,i5}
  \draw[link=orgM] (ui.west) -| ([xshift=0.18cm]\n.east) -- (\n.east);
\draw[link=orgM] (ui.west) -- (i3.east);

\node[lt] (i1a) at (1834,4330) {元素存在};
\node[lt] (i1b) at (1834,4422) {布局合理};
\node[lt] (i1c) at (1834,4500) {样式统一};
\node[lt] (i1d) at (1834,4579) {状态正常};
\node[lt] (i1ax) at (1711,4330) {预期结果:注册页面的用户名、昵称、密码、二次\\密码、条约勾选、注册按钮以及登录的跳转按钮\\是否存在};
\node[lt] (i1bx) at (1711,4422) {预期结果:元素排列(输入框->勾选框->按钮)符合\\操作吸习惯,间距、对其协调};
\node[lt] (i1cx) at (1711,4500) {预期结果:输入框/按钮颜色、字体一致,占位符提\\示清晰,图标可识别};
\node[lt] (i1dx) at (1711,4579) {预期结果:输入框可输入、按钮可以点击、密码显\\式隐式切换正常};
\foreach \n in {i1a,i1b,i1c,i1d}
  \draw[link=orgM] (i1.west) -| ([xshift=0.18cm]\n.east) -- (\n.east);

\node[lt] (i2a) at (1834,4655) {元素存在};
\node[lt] (i2b) at (1834,4734) {布局合理};
\node[lt] (i2c) at (1834,4813) {样式统一};
\node[lt] (i2d) at (1834,4891) {状态正常};
\node[lt] (i2ax) at (1711,4655) {预期结果:登录页面的用户名、密码显式隐式显\\示、登录按钮以及跳转的注册页面是否存在};
\node[lt] (i2bx) at (1711,4734) {预期结果:元素排列(输入框->密码框->按钮)符合\\操作习惯,间隙、对其协调};
\node[lt] (i2cx) at (1711,4813) {预期结果:输入框/按钮颜色、字体大小样式统一,\\占位符提示清晰,图标可识别};
\node[lt] (i2dx) at (1711,4891) {预期结果:输入框可输入、按钮可以点击、密码显\\式隐式切换正常};
\foreach \n in {i2a,i2b,i2c,i2d}
  \draw[link=orgM] (i2.west) -| ([xshift=0.18cm]\n.east) -- (\n.east);

\node[lt] (i3a) at (1834,4981) {元素存在};
\node[lt] (i3b) at (1834,5109) {布局合理};
\node[lt] (i3c) at (1834,5237) {样式统一};
\node[lt] (i3d) at (1834,5330) {状态正常};
\node[lt] (i3ax) at (1711,4981) {预期结果:背景图、当前用户名、搜索框、搜索按\\钮导航栏(会话、好友列表、好友申请列表)显示\\正确,符合操作习惯,左右两侧划分对称协调};
\node[lt] (i3bx) at (1711,5109) {预期结果:元素排列(左侧功能栏:用户名-{}->搜索\\框-{}->导航栏-{}->列表,右边内容区:会话标题-{}->内\\容显示-{}->文本输入)符合常见聊天软件操作习惯\\且左右两侧划分清晰};
\node[lt] (i3cx) at (1711,5237) {预期结果:各图标、文字的颜色、字体、间距与设\\计规范一致,且当前界面视觉风格统一，无明显样\\式冲突};
\node[lt] (i3dx) at (1711,5330) {预期结果:界面元素无加载异常、错位等问题,默认\\显示会话列表且交互区域识别性强};
\foreach \n in {i3a,i3b,i3c,i3d}
  \draw[link=orgM] (i3.west) -| ([xshift=0.18cm]\n.east) -- (\n.east);

\node[lt] (i4a) at (1797,5445) {布局合理};
\node[lt] (i4b) at (1797,5563) {样式统一};
\node[lt] (i4c) at (1797,5630) {状态正常};
\node[lt] (i4ax) at (1673,5445) {预期结果:操作(搜索框输入有效内容-{}->点击搜索\\按钮-{}->右侧加载信息(好友名称、申请理由、发\\送按钮)-{}->在对方的好友申请显示(好友名称、申\\请理由、拒绝与同意按钮))符合操作习惯,且结果\\显示与文档一致};
\node[lt] (i4bx) at (1673,5563) {预期结果:功能中的元素显示字体大小、按钮颜色\\风格一致,交互区域识别性强};
\node[lt] (i4cx) at (1673,5630) {预期结果:界面元素无加载异常、错位等问题};
\foreach \n in {i4a,i4b,i4c}
  \draw[link=orgM] (i4.west) -| ([xshift=0.18cm]\n.east) -- (\n.east);

\node[lt] (i5a) at (1797,5757) {布局合理};
\node[lt] (i5b) at (1797,5914) {样式统一};
\node[lt] (i5c) at (1797,6006) {状态正常};
\node[lt] (i5ax) at (1673,5757) {预期结果:\\1.点击会话列表元素加载会话(标题、内容与输入\\框)元素大小布局合理\\2.点击好友列表加载会话,其中高亮显示与右侧内\\容元素显示正常,元素大小布局合理\\3.双方发送消息发送人区分、时间戳、姓名显示\\正常且元素大小正常,布局合理};
\node[lt] (i5bx) at (1673,5914) {预期结果:上述的流程中,符合用户操作,且界面的\\字体、颜色样式符合当前项目,互动数据清晰与展\\示一致};
\node[lt] (i5cx) at (1673,6006) {预期结果:界面元素无加载异常、错位等问题,数据\\显示正常(文本内容与时间等)};
\foreach \n in {i5a,i5b,i5c}
  \draw[link=orgM] (i5.west) -| ([xshift=0.18cm]\n.east) -- (\n.east);
\foreach \a/\b in {i1a/i1ax,i1b/i1bx,i1c/i1cx,i1d/i1dx,i2a/i2ax,i2b/i2bx,i2c/i2cx,i2d/i2dx,i3a/i3ax,i3b/i3bx,i3c/i3cx,i3d/i3dx,i4a/i4ax,i4b/i4bx,i4c/i4cx,i5a/i5ax,i5b/i5bx,i5c/i5cx}
  \draw[link=orgM] (\a.west) -- (\b.east);
\end{scope}

% Fusszeile
\node[font=\fontsize{8.5}{10}\selectfont, text=black!25] (brand) at (2136,6259) {Presented with \textbf{xmind}};
\end{tikzpicture}
\end{document}
